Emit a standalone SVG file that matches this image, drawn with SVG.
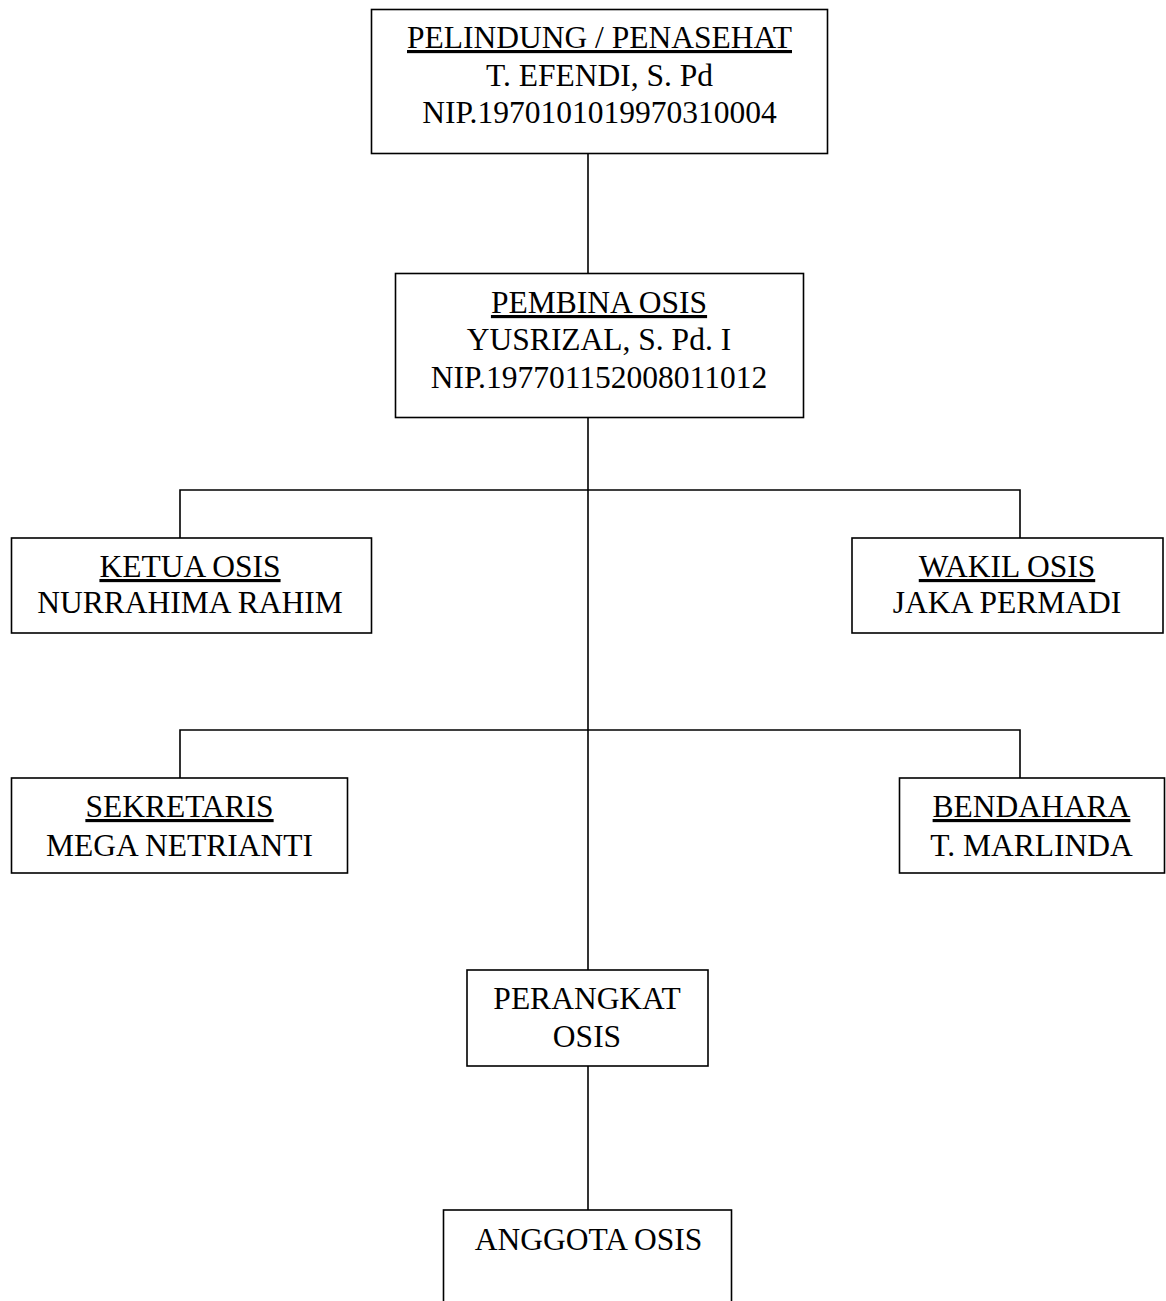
<svg xmlns="http://www.w3.org/2000/svg" width="1166" height="1301" viewBox="0 0 1166 1301">
<style>
.box{fill:#fff;stroke:#000;stroke-width:1.6}
.ln{fill:none;stroke:#000;stroke-width:1.6}
text{font-family:"Liberation Serif","Times New Roman",serif;font-size:31.5px;fill:#000;text-anchor:middle}
.u{text-decoration:underline}
</style>
<rect width="1166" height="1301" fill="#fff"/>
<g id="connectors">
<path class="ln" d="M588 153V273"/>
<path class="ln" d="M588 417V970"/>
<path class="ln" d="M180 538V490H1020V538"/>
<path class="ln" d="M180 778V730H1020V778"/>
<path class="ln" d="M588 1066V1210"/>
</g>
<g id="pelindung">
<rect class="box" x="371.5" y="9.5" width="456" height="144"/>
<text x="599.5" y="48" class="u">PELINDUNG / PENASEHAT</text>
<text x="599.5" y="86">T. EFENDI, S. Pd</text>
<text x="599.5" y="123">NIP.1970101019970310004</text>
</g>
<g id="pembina">
<rect class="box" x="395.5" y="273.5" width="408" height="144"/>
<text x="599" y="313" class="u">PEMBINA OSIS</text>
<text x="599" y="350">YUSRIZAL, S. Pd. I</text>
<text x="599" y="388">NIP.197701152008011012</text>
</g>
<g id="ketua">
<rect class="box" x="11.5" y="538" width="360" height="95"/>
<text x="190" y="577" class="u">KETUA OSIS</text>
<text x="190" y="613">NURRAHIMA RAHIM</text>
</g>
<g id="wakil">
<rect class="box" x="852" y="538" width="311" height="95"/>
<text x="1007" y="577" class="u">WAKIL OSIS</text>
<text x="1007" y="613">JAKA PERMADI</text>
</g>
<g id="sekretaris">
<rect class="box" x="11.5" y="778" width="336" height="95"/>
<text x="179.5" y="817" class="u">SEKRETARIS</text>
<text x="179.5" y="856">MEGA NETRIANTI</text>
</g>
<g id="bendahara">
<rect class="box" x="899.5" y="778" width="265" height="95"/>
<text x="1031.5" y="817" class="u">BENDAHARA</text>
<text x="1031.5" y="856">T. MARLINDA</text>
</g>
<g id="perangkat">
<rect class="box" x="467" y="970" width="241" height="96"/>
<text x="587" y="1009">PERANGKAT</text>
<text x="587" y="1047">OSIS</text>
</g>
<g id="anggota">
<rect class="box" x="443.5" y="1210" width="288" height="120"/>
<text x="588.5" y="1250">ANGGOTA OSIS</text>
</g>
</svg>
